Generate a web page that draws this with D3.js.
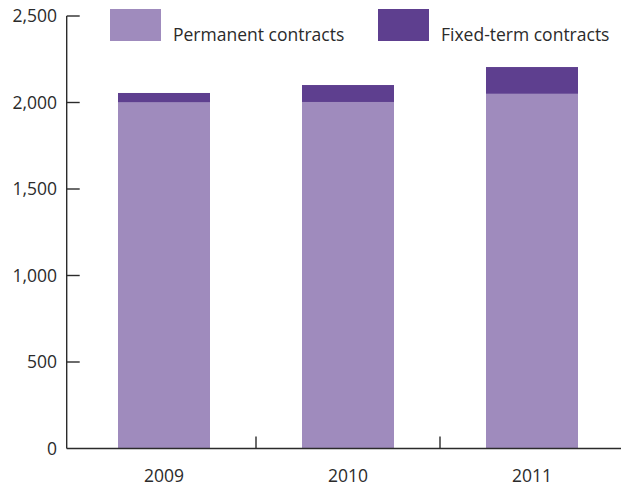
<!DOCTYPE html>
<html>
<head>
<meta charset="utf-8">
<script src="https://cdn.jsdelivr.net/npm/d3@7"></script>
<style>
  html, body { margin: 0; padding: 0; background: #fff; }
  svg text { font-family: "Open Sans", "Noto Sans", sans-serif; fill: #2b2b2b; }
</style>
</head>
<body>
<svg id="chart" width="621" height="486"></svg>
<script>
// Employees by contract type, per year
const years = ["2009", "2010", "2011"];
const permanent = [2000, 2003, 2050];
const fixedTerm = [55, 98, 155];
const seriesNames = ["Permanent contracts", "Fixed-term contracts"];
const seriesColors = ["#9f8bbd", "#5e3f8f"];
const yTicks = [0, 500, 1000, 1500, 2000, 2500];

const svg = d3.select("#chart");
const axisColor = "#2b2b2b";

const x = d3.scaleBand().domain(years).range([72, 624]).paddingInner(0.5).paddingOuter(0.25);
const y = d3.scaleLinear().domain([0, 2500]).range([448.5, 16]);
const x0 = 66.7;

const rows = years.map((yr, i) => ({ year: yr, permanent: permanent[i], fixed: fixedTerm[i] }));
const stacked = d3.stack().keys(["permanent", "fixed"])(rows);

// stacked bars
svg.append("g").selectAll("g").data(stacked).join("g")
  .attr("fill", (d, i) => seriesColors[i])
  .selectAll("rect").data(d => d).join("rect")
  .attr("x", d => x(d.data.year))
  .attr("width", x.bandwidth())
  .attr("y", d => y(d[1]))
  .attr("height", d => y(d[0]) - y(d[1]));

// y axis: line, inward ticks, labels
const fmt = d3.format(",");
svg.append("line").attr("x1", x0).attr("x2", x0).attr("y1", y(2500)).attr("y2", y(0))
  .attr("stroke", axisColor).attr("stroke-width", 1.4);
const yt = svg.append("g").selectAll("g").data(yTicks).join("g")
  .attr("transform", d => `translate(0,${y(d)})`);
yt.filter(d => d > 0).append("line").attr("x1", x0).attr("x2", x0 + 13)
  .attr("stroke", axisColor).attr("stroke-width", 1.4);
yt.append("text").attr("x", 57).attr("dy", "0.36em").attr("text-anchor", "end")
  .attr("font-size", 17.5).text(d => fmt(d));

// x axis: baseline, separator ticks, year labels
svg.append("line").attr("x1", x0).attr("x2", 621).attr("y1", y(0)).attr("y2", y(0))
  .attr("stroke", axisColor).attr("stroke-width", 1.4);
svg.append("g").selectAll("line").data(years.slice(1)).join("line")
  .attr("x1", d => x(d) - x.step() * x.paddingInner() / 2)
  .attr("x2", d => x(d) - x.step() * x.paddingInner() / 2)
  .attr("y1", y(0)).attr("y2", y(0) - 12)
  .attr("stroke", axisColor).attr("stroke-width", 1.4);
svg.append("g").selectAll("text").data(years).join("text")
  .attr("x", d => x(d) + x.bandwidth() / 2).attr("y", 481.5)
  .attr("text-anchor", "middle").attr("font-size", 17.5).text(d => d);

// legend
const legendX = [110, 378];
const lg = svg.append("g").selectAll("g").data(seriesNames).join("g")
  .attr("transform", (d, i) => `translate(${legendX[i]},9)`);
lg.append("rect").attr("width", 51).attr("height", 32).attr("fill", (d, i) => seriesColors[i]);
lg.append("text").attr("x", 63).attr("y", 31.5).attr("font-size", 17.5).text(d => d);
</script>
</body>
</html>
